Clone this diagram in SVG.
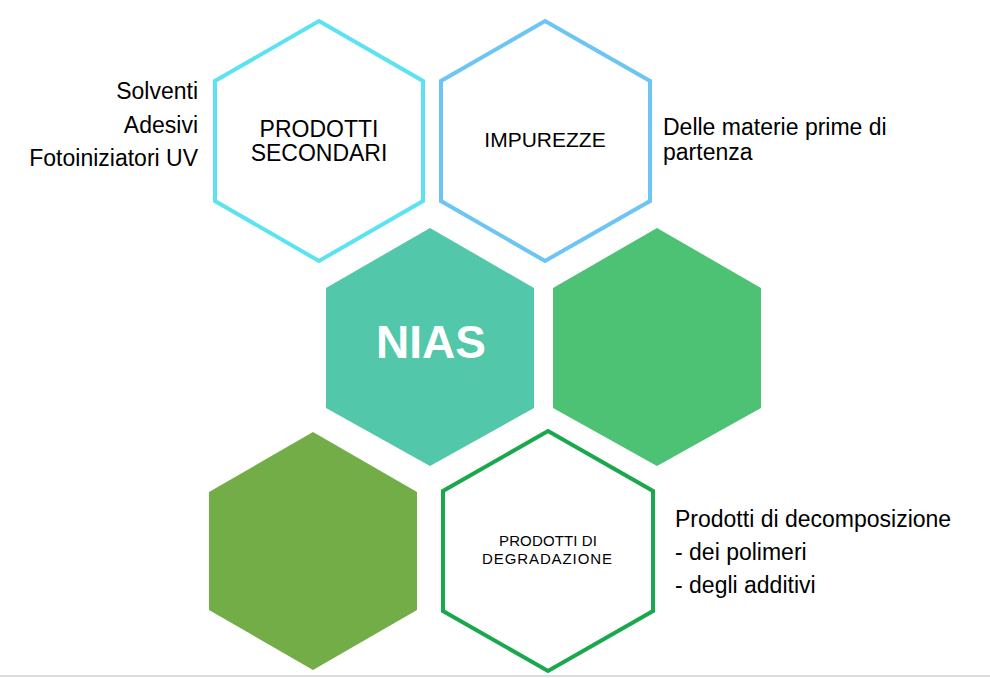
<svg xmlns="http://www.w3.org/2000/svg" width="990" height="678" viewBox="0 0 990 678">
<style>
text{font-family:"Liberation Sans",Arial,sans-serif;fill:#000}
.o{fill:#fff;stroke-width:4}
</style>
<rect width="990" height="678" fill="#fff"/>
<g id="prodotti-secondari">
<polygon class="o" stroke="#5ce3f2" points="319,21 423,81 423,201 319,261 215,201 215,81"/>
<text x="319" y="137" font-size="23" text-anchor="middle">PRODOTTI</text>
<text x="319" y="161" font-size="23" text-anchor="middle">SECONDARI</text>
</g>
<g id="impurezze">
<polygon class="o" stroke="#6cc5f4" points="545,21 650,81 650,201 545,261 441,201 441,81"/>
<text x="545" y="147" font-size="21" text-anchor="middle">IMPUREZZE</text>
</g>
<g id="nias">
<polygon fill="#52c7a9" points="430,228 534,288 534,408 430,466 326,408 326,288"/>
<text x="431" y="358" font-size="46" font-weight="bold" text-anchor="middle" style="fill:#fff">NIAS</text>
</g>
<g id="green-right">
<polygon fill="#4dc274" points="657,228 761,288 761,408 657,466 553,408 553,288"/>
</g>
<g id="green-left">
<polygon fill="#72ad48" points="313,432 417,492 417,610 313,670 209,610 209,492"/>
</g>
<g id="prodotti-degradazione">
<polygon class="o" stroke="#1aa84e" points="548,431 653,491 653,611 548,671 443,611 443,491"/>
<text x="548" y="546" font-size="15" text-anchor="middle" textLength="98">PRODOTTI DI</text>
<text x="547" y="564" font-size="15" text-anchor="middle" textLength="130">DEGRADAZIONE</text>
</g>
<g id="labels" font-size="23">
<text x="198" y="99" text-anchor="end">Solventi</text>
<text x="198" y="133" text-anchor="end">Adesivi</text>
<text x="198" y="166" text-anchor="end">Fotoiniziatori UV</text>
<text x="663" y="135">Delle materie prime di</text>
<text x="663" y="160">partenza</text>
<text x="675" y="527">Prodotti di decomposizione</text>
<text x="675" y="560">- dei polimeri</text>
<text x="675" y="593">- degli additivi</text>
</g>
<g id="connectors"/>
<line x1="0" y1="676" x2="990" y2="676" stroke="#ddd" stroke-width="2"/>
</svg>
